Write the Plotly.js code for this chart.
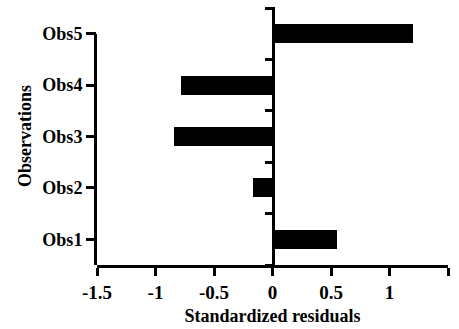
<!DOCTYPE html>
<html>
<head>
<meta charset="utf-8">
<script src="https://cdn.plot.ly/plotly-3.0.1.min.js"></script>
<style>html,body{margin:0;padding:0;background:#fff;}#chart{width:459px;height:329px;}#info{position:absolute;left:380px;top:165px;font-size:6px;width:60px;font-family:monospace;color:#fff}</style>
</head>
<body>
<div id="chart"></div>
<div id="info"></div>
<script>
window.onerror = function(m){ document.getElementById('info').textContent += ' E'; };
const categories = ['Obs1', 'Obs2', 'Obs3', 'Obs4', 'Obs5'];
const residuals = [0.55, -0.17, -0.84, -0.78, 1.205];
const xTickVals = [-1.5, -1, -0.5, 0, 0.5, 1, 1.5];
const xTickText = ['-1.5', '-1', '-0.5', '0', '0.5', '1', '1.5'];
const midTickVals = [-0.5, 0.5, 1.5, 2.5, 3.5, 4.5];
const FAM = 'Liberation Serif';
const yRange = [-0.5, 4.52];
const obs5Frac = (categories.length - 1 - yRange[0]) / (yRange[1] - yRange[0]);
function f(size) { return {family: FAM, size: size, color: '#000', weight: 'bold'}; }
const trace = {type: 'bar', orientation: 'h', x: residuals, y: categories, width: 0.37,
  marker: {color: '#000', line: {width: 0}}, hoverinfo: 'none', showlegend: false};
const layout = {
  width: 459, height: 329, margin: {l: 97, r: 11, t: 7, b: 64},
  paper_bgcolor: '#fff', plot_bgcolor: 'rgba(0,0,0,0)', font: f(18), bargap: 0,
  xaxis: {range: [-1.5, 1.5], tickvals: xTickVals, ticktext: xTickText,
    ticks: 'outside', ticklen: 8, tickwidth: 3, tickcolor: '#000',
    showline: true, linewidth: 3, linecolor: '#000', showgrid: false, zeroline: false,
    tickfont: f(19), title: {text: 'Standardized residuals', font: f(18), standoff: 8}},
  yaxis: {type: 'category', range: yRange, ticks: 'outside', ticklen: 10, tickwidth: 3, tickcolor: '#000',
    showline: false, showgrid: false, zeroline: false, tickfont: f(18),
    title: {text: 'Observations', font: f(18), standoff: 6}},
  yaxis2: {overlaying: 'y', anchor: 'free', position: 0.5, side: 'left', range: yRange, tickvals: midTickVals,
    showticklabels: false, ticks: 'outside', ticklen: 7, tickwidth: 3, tickcolor: '#000',
    showline: true, linewidth: 3, linecolor: '#000', showgrid: false, zeroline: false},
  yaxis3: {domain: [0, obs5Frac], anchor: 'x', side: 'left', range: [0, 1],
    showticklabels: false, ticks: '', showline: true, linewidth: 3, linecolor: '#000',
    showgrid: false, zeroline: false}
};
const dummy2 = {type: 'scatter', x: [null], y: [null], yaxis: 'y2', showlegend: false, hoverinfo: 'none'};
const dummy3 = {type: 'scatter', x: [null], y: [null], yaxis: 'y3', showlegend: false, hoverinfo: 'none'};
Plotly.newPlot('chart', [trace, dummy2, dummy3], layout, {displayModeBar: false, staticPlot: true}).then(()=>{
  document.getElementById('info').textContent += 'ok';
}).catch(e => { document.getElementById('info').textContent += ' E'; });
</script>
</body>
</html>
